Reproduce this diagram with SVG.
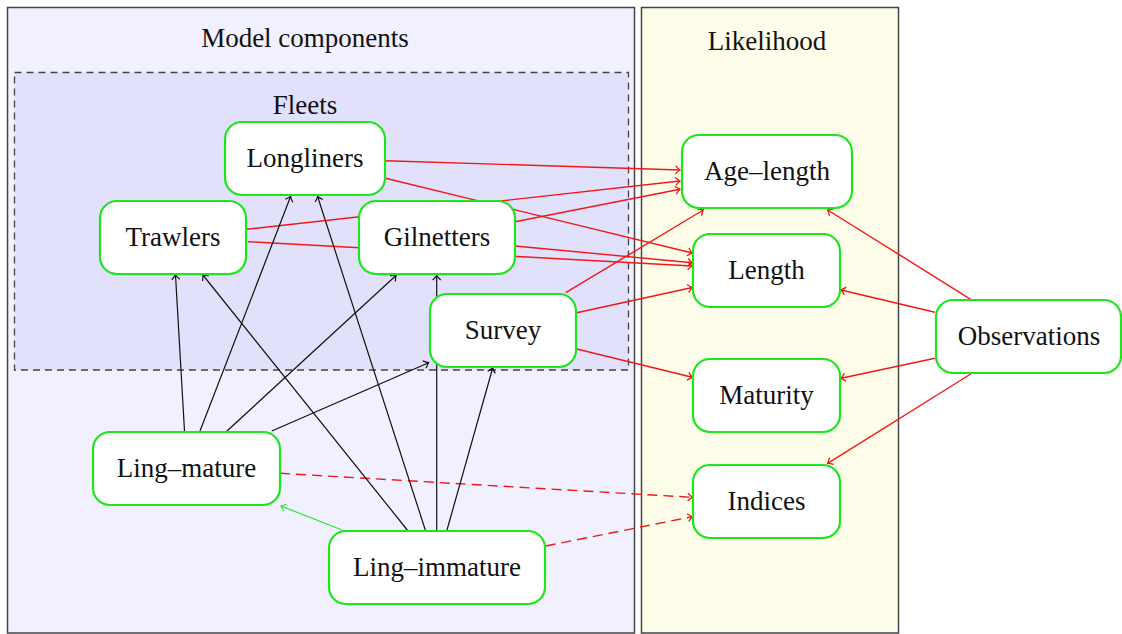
<svg xmlns="http://www.w3.org/2000/svg" width="1122" height="634" viewBox="0 0 1122 634">
<defs>
<style>
.t{font-family:'Liberation Serif','Times New Roman',serif;font-size:27px;fill:#111;text-anchor:middle}
.node{fill:#fff;stroke:#1ee61e;stroke-width:2.2}
.blk{fill:none;stroke:#111;stroke-width:1.2;marker-end:url(#ab)}
.red{fill:none;stroke:#f01818;stroke-width:1.4;marker-end:url(#ar)}
.dash{stroke-dasharray:10 6}
.grn{fill:none;stroke:#2ee62e;stroke-width:1.2;marker-end:url(#ag)}
</style>
<marker id="ab" markerUnits="userSpaceOnUse" markerWidth="12" markerHeight="12" refX="0" refY="0" viewBox="-6 -6 12 12" orient="auto" overflow="visible"><path d="M-4.5,-4 Q-1.5,-0.8 0,0 Q-1.5,0.8 -4.5,4" fill="none" stroke="#111" stroke-width="1.2"/></marker>
<marker id="ar" markerUnits="userSpaceOnUse" markerWidth="12" markerHeight="12" refX="0" refY="0" viewBox="-6 -6 12 12" orient="auto" overflow="visible"><path d="M-4.5,-4 Q-1.5,-0.8 0,0 Q-1.5,0.8 -4.5,4" fill="none" stroke="#f01818" stroke-width="1.3"/></marker>
<marker id="ag" markerUnits="userSpaceOnUse" markerWidth="12" markerHeight="12" refX="0" refY="0" viewBox="-6 -6 12 12" orient="auto" overflow="visible"><path d="M-4.5,-4 Q-1.5,-0.8 0,0 Q-1.5,0.8 -4.5,4" fill="none" stroke="#2ee62e" stroke-width="1.2"/></marker>
</defs>
<rect width="1122" height="634" fill="#fff"/>
<g id="panels">
<rect x="7.5" y="7.5" width="627" height="625.5" fill="#f0f0fe" stroke="#444" stroke-width="1.5"/>
<rect x="641.5" y="7.5" width="257" height="625.5" fill="#fdfde9" stroke="#444" stroke-width="1.5"/>
<rect x="14.5" y="72.5" width="614" height="297.5" fill="#e1e1fb" stroke="#444" stroke-width="1.3" stroke-dasharray="7 5"/>
<text class="t" x="305" y="47">Model components</text>
<text class="t" x="305" y="114">Fleets</text>
<text class="t" x="767" y="50">Likelihood</text>
</g>
<g id="connectors">
<path class="red" d="M385.5,160.7 L680,170"/>
<path class="red" d="M246.5,229.3 L680,181"/>
<path class="red" d="M515,221.7 L680,189.3"/>
<path class="red" d="M385.5,178.3 L692.3,253"/>
<path class="red" d="M247.8,241.7 L692.3,266"/>
<path class="red" d="M515,246 L692.3,262.7"/>
<path class="red" d="M576.7,312.7 L692.3,287.5"/>
<path class="red" d="M565.7,292.7 L703.3,210"/>
<path class="red" d="M576.7,349 L692.3,377.3"/>
<path class="red dash" d="M280,473.3 L692.3,497.3"/>
<path class="red dash" d="M545.7,546 L692.3,516.7"/>
<path class="red" d="M970.7,299.3 L827.7,210"/>
<path class="red" d="M935,312.3 L841,290"/>
<path class="red" d="M935,358.3 L841,378.3"/>
<path class="red" d="M970.7,374 L827.7,463.3"/>
<path class="grn" d="M342,530 L281,506"/>
<path class="blk" d="M184.5,431 L175.5,275"/>
<path class="blk" d="M407.3,530 L202.9,275"/>
<path class="blk" d="M200,431 L290.6,196.5"/>
<path class="blk" d="M425.3,530 L317.6,196.5"/>
<path class="blk" d="M227,431 L396,275.5"/>
<path class="blk" d="M436.7,530 L436.7,275.5"/>
<path class="blk" d="M271.8,431 L428.6,362.7"/>
<path class="blk" d="M447,530 L492.7,368"/>
</g>
<g id="n-longliners"><rect class="node" x="225" y="122" width="160" height="73" rx="17"/><text class="t" x="305" y="166.5">Longliners</text></g>
<g id="n-trawlers"><rect class="node" x="100" y="201" width="146" height="73" rx="17"/><text class="t" x="173" y="245.5">Trawlers</text></g>
<g id="n-gilnetters"><rect class="node" x="359" y="201" width="156" height="73" rx="17"/><text class="t" x="437" y="245.5">Gilnetters</text></g>
<g id="n-survey"><rect class="node" x="430" y="294" width="146" height="73" rx="17"/><text class="t" x="503" y="338.5">Survey</text></g>
<g id="n-lingmature"><rect class="node" x="93" y="432" width="187" height="73" rx="17"/><text class="t" x="186.5" y="476.5">Ling–mature</text></g>
<g id="n-lingimmature"><rect class="node" x="329" y="531" width="216" height="73" rx="17"/><text class="t" x="437" y="575.5">Ling–immature</text></g>
<g id="n-agelength"><rect class="node" x="682" y="135" width="170" height="73" rx="17"/><text class="t" x="767" y="179.5">Age–length</text></g>
<g id="n-length"><rect class="node" x="693" y="234" width="147" height="73" rx="17"/><text class="t" x="766.5" y="278.5">Length</text></g>
<g id="n-maturity"><rect class="node" x="693" y="359" width="147" height="73" rx="17"/><text class="t" x="766.5" y="403.5">Maturity</text></g>
<g id="n-indices"><rect class="node" x="693" y="465" width="147" height="73" rx="17"/><text class="t" x="766.5" y="509.5">Indices</text></g>
<g id="n-observations"><rect class="node" x="936" y="300" width="185" height="73" rx="17"/><text class="t" x="1029" y="344.5">Observations</text></g>
</svg>
